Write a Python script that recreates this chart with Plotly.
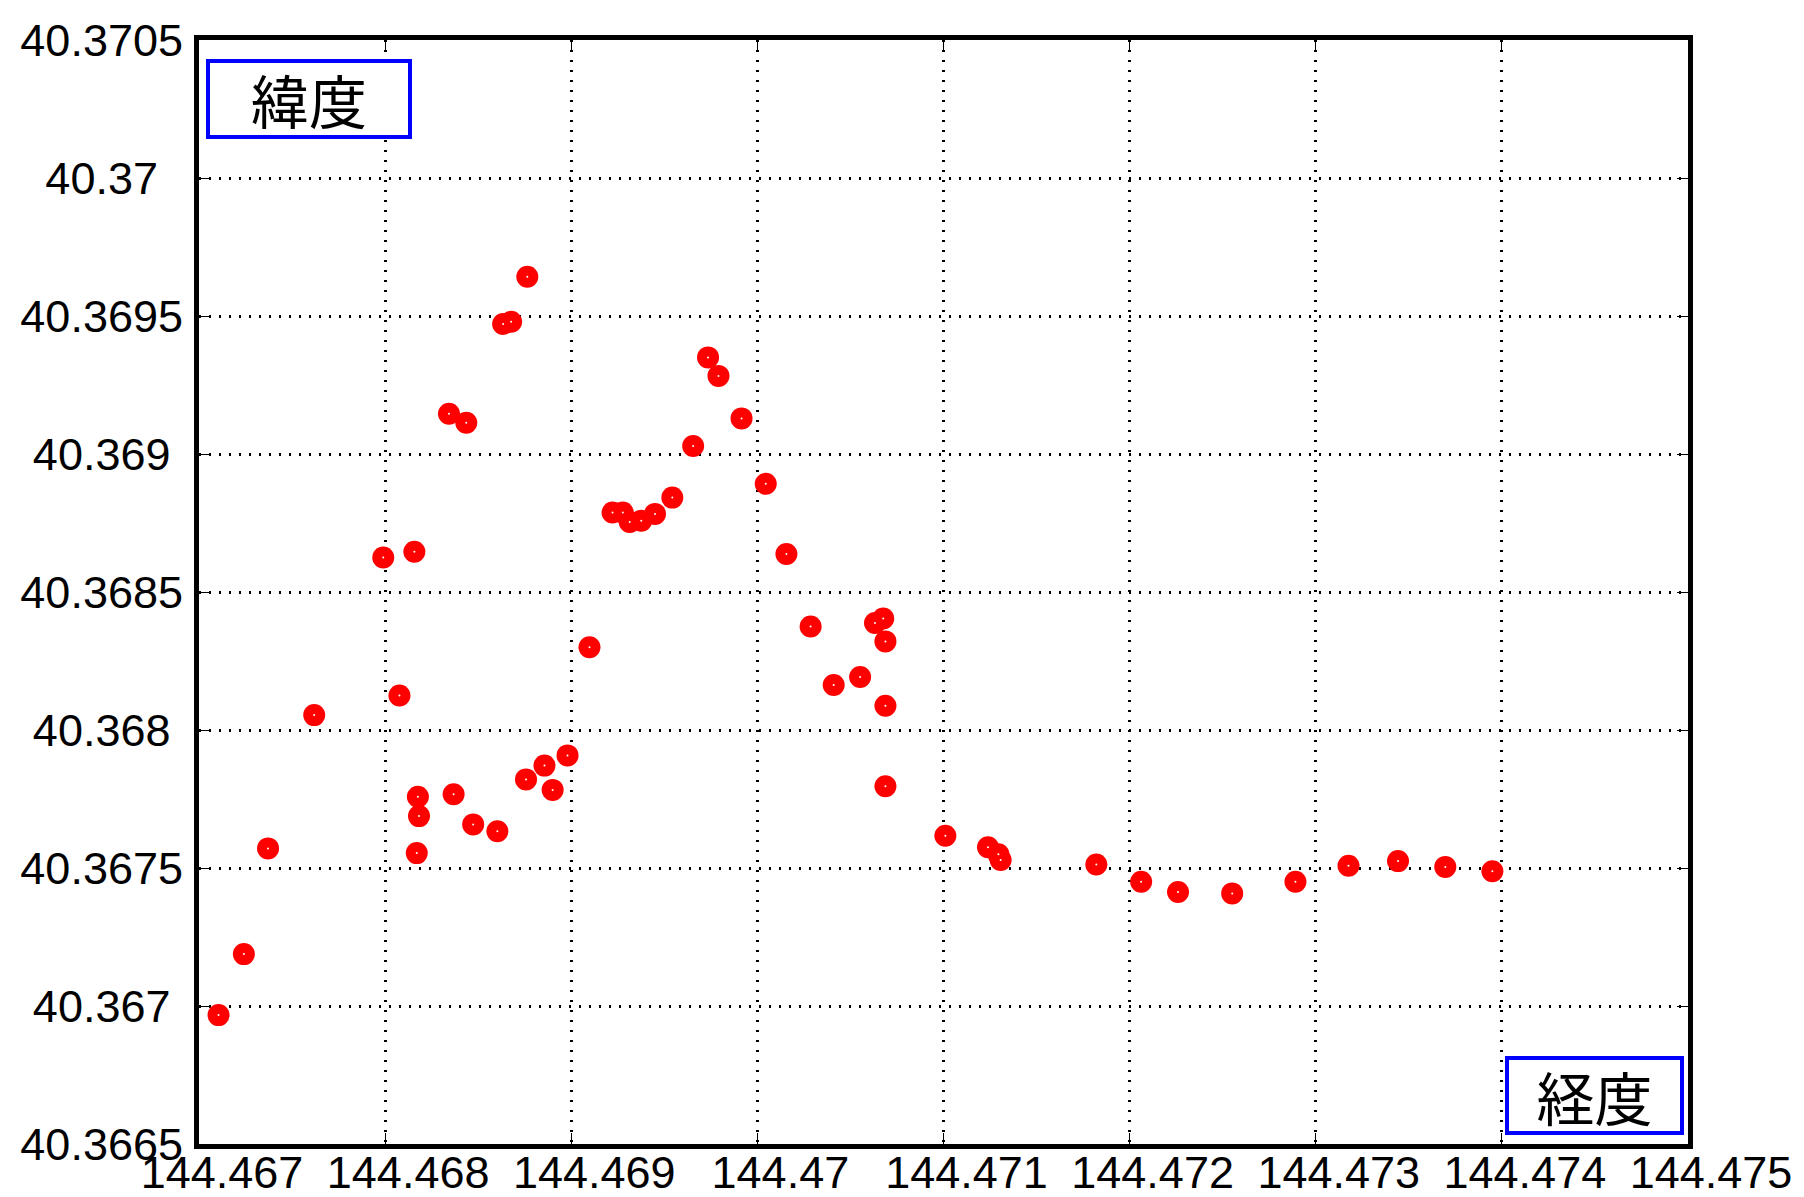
"""Scatter of latitude / longitude track points."""

import plotly.graph_objects as go

# longitude (x) and latitude (y) of each point
longitude = [
    144.467105, 144.467241, 144.467371, 144.467619, 144.467990, 144.468077,
    144.468157, 144.468170, 144.468176, 144.468182, 144.468343, 144.468368,
    144.468436, 144.468473, 144.468603, 144.468634, 144.468677, 144.468757,
    144.468764, 144.468856, 144.468900, 144.468980, 144.469098, 144.469222,
    144.469277, 144.469314, 144.469376, 144.469450, 144.469543, 144.469655,
    144.469735, 144.469791, 144.469915, 144.470045, 144.470156, 144.470286,
    144.470410, 144.470552, 144.470632, 144.470676, 144.470688, 144.470688,
    144.470688, 144.471010, 144.471239, 144.471295, 144.471307, 144.471821,
    144.472062, 144.472260, 144.472551, 144.472891, 144.473176, 144.473442,
    144.473696, 144.473949,
]
latitude = [
    40.366967, 40.367188, 40.367571, 40.368054, 40.368625, 40.368125,
    40.368646, 40.367554, 40.367758, 40.367688, 40.369146, 40.367767,
    40.369113, 40.367658, 40.367633, 40.369471, 40.369479, 40.367821,
    40.369642, 40.367871, 40.367783, 40.367908, 40.368300, 40.368788,
    40.368788, 40.368754, 40.368758, 40.368783, 40.368842, 40.369029,
    40.369350, 40.369283, 40.369129, 40.368892, 40.368638, 40.368375,
    40.368163, 40.368192, 40.368388, 40.368404, 40.368321, 40.368088,
    40.367796, 40.367617, 40.367575, 40.367550, 40.367529, 40.367513,
    40.367450, 40.367413, 40.367408, 40.367450, 40.367508, 40.367525,
    40.367504, 40.367488,
]

x_ticks = [144.467, 144.468, 144.469, 144.470, 144.471, 144.472, 144.473, 144.474, 144.475]
x_tick_labels = ["144.467", "144.468", "144.469", "144.47", "144.471",
                 "144.472", "144.473", "144.474", "144.475"]
y_ticks = [40.3665, 40.367, 40.3675, 40.368, 40.3685, 40.369, 40.3695, 40.37, 40.3705]
y_tick_labels = ["40.3665", "40.367", "40.3675", "40.368", "40.3685",
                 "40.369", "40.3695", "40.37", "40.3705"]

lat_label = "緯度"
lon_label = "経度"

tick_font = dict(family="Liberation Sans, Arial", size=45, color="black")
box_font = dict(family="Noto Sans CJK JP", size=58, color="black")

# y labels are centred in the reference, plotly right-aligns them:
# pad the shorter ones on the right with fixed-width spaces
PAD = {4: "\u2007", 5: "\u2008", 6: ""}
y_tick_text = [t + PAD.get(len(t.replace(".", "")), "") for t in y_tick_labels]

fig = go.Figure()

fig.add_trace(go.Scatter(
    x=longitude, y=latitude, mode="markers",
    marker=dict(color="red", size=22, line=dict(width=0)),
    hoverinfo="x+y", showlegend=False,
))
# tiny white centre, like the reference markers
fig.add_trace(go.Scatter(
    x=longitude, y=latitude, mode="markers",
    marker=dict(color="white", size=2, line=dict(width=0)),
    hoverinfo="skip", showlegend=False,
))

axis_common = dict(
    showline=True, linecolor="black", linewidth=5, mirror="ticks",
    ticks="inside", ticklen=11, tickwidth=1, tickcolor="black",
    showgrid=True, gridcolor="black", gridwidth=3, griddash="2px,8px",
    zeroline=False, tickfont=tick_font, tickmode="array",
    automargin=False, tickangle=0,
)

eps = 1e-9
fig.update_xaxes(
    range=[x_ticks[0] - eps, x_ticks[-1] + eps], tickvals=x_ticks, ticktext=x_tick_labels,
    ticklabelshift=23, ticklabelstandoff=-15, **axis_common,
)
fig.update_yaxes(
    range=[y_ticks[0] - eps, y_ticks[-1] + eps], tickvals=y_ticks, ticktext=y_tick_text,
    ticklabelstandoff=2, **axis_common,
)

fig.add_annotation(
    text=lat_label, xref="paper", yref="paper", x=0.0045, y=0.983,
    xanchor="left", yanchor="top", showarrow=False, font=box_font,
    width=198, height=72, borderpad=0, borderwidth=4, bordercolor="blue", bgcolor="white",
)
fig.add_annotation(
    text=lon_label, xref="paper", yref="paper", x=0.9973, y=0.0081,
    xanchor="right", yanchor="bottom", showarrow=False, font=box_font,
    width=171, height=71, borderpad=0, borderwidth=4, bordercolor="blue", bgcolor="white",
)

fig.update_layout(
    width=1804, height=1197,
    margin=dict(l=191, r=124, t=32, b=61),
    plot_bgcolor="white", paper_bgcolor="white",
)

fig.write_html("out.html")
